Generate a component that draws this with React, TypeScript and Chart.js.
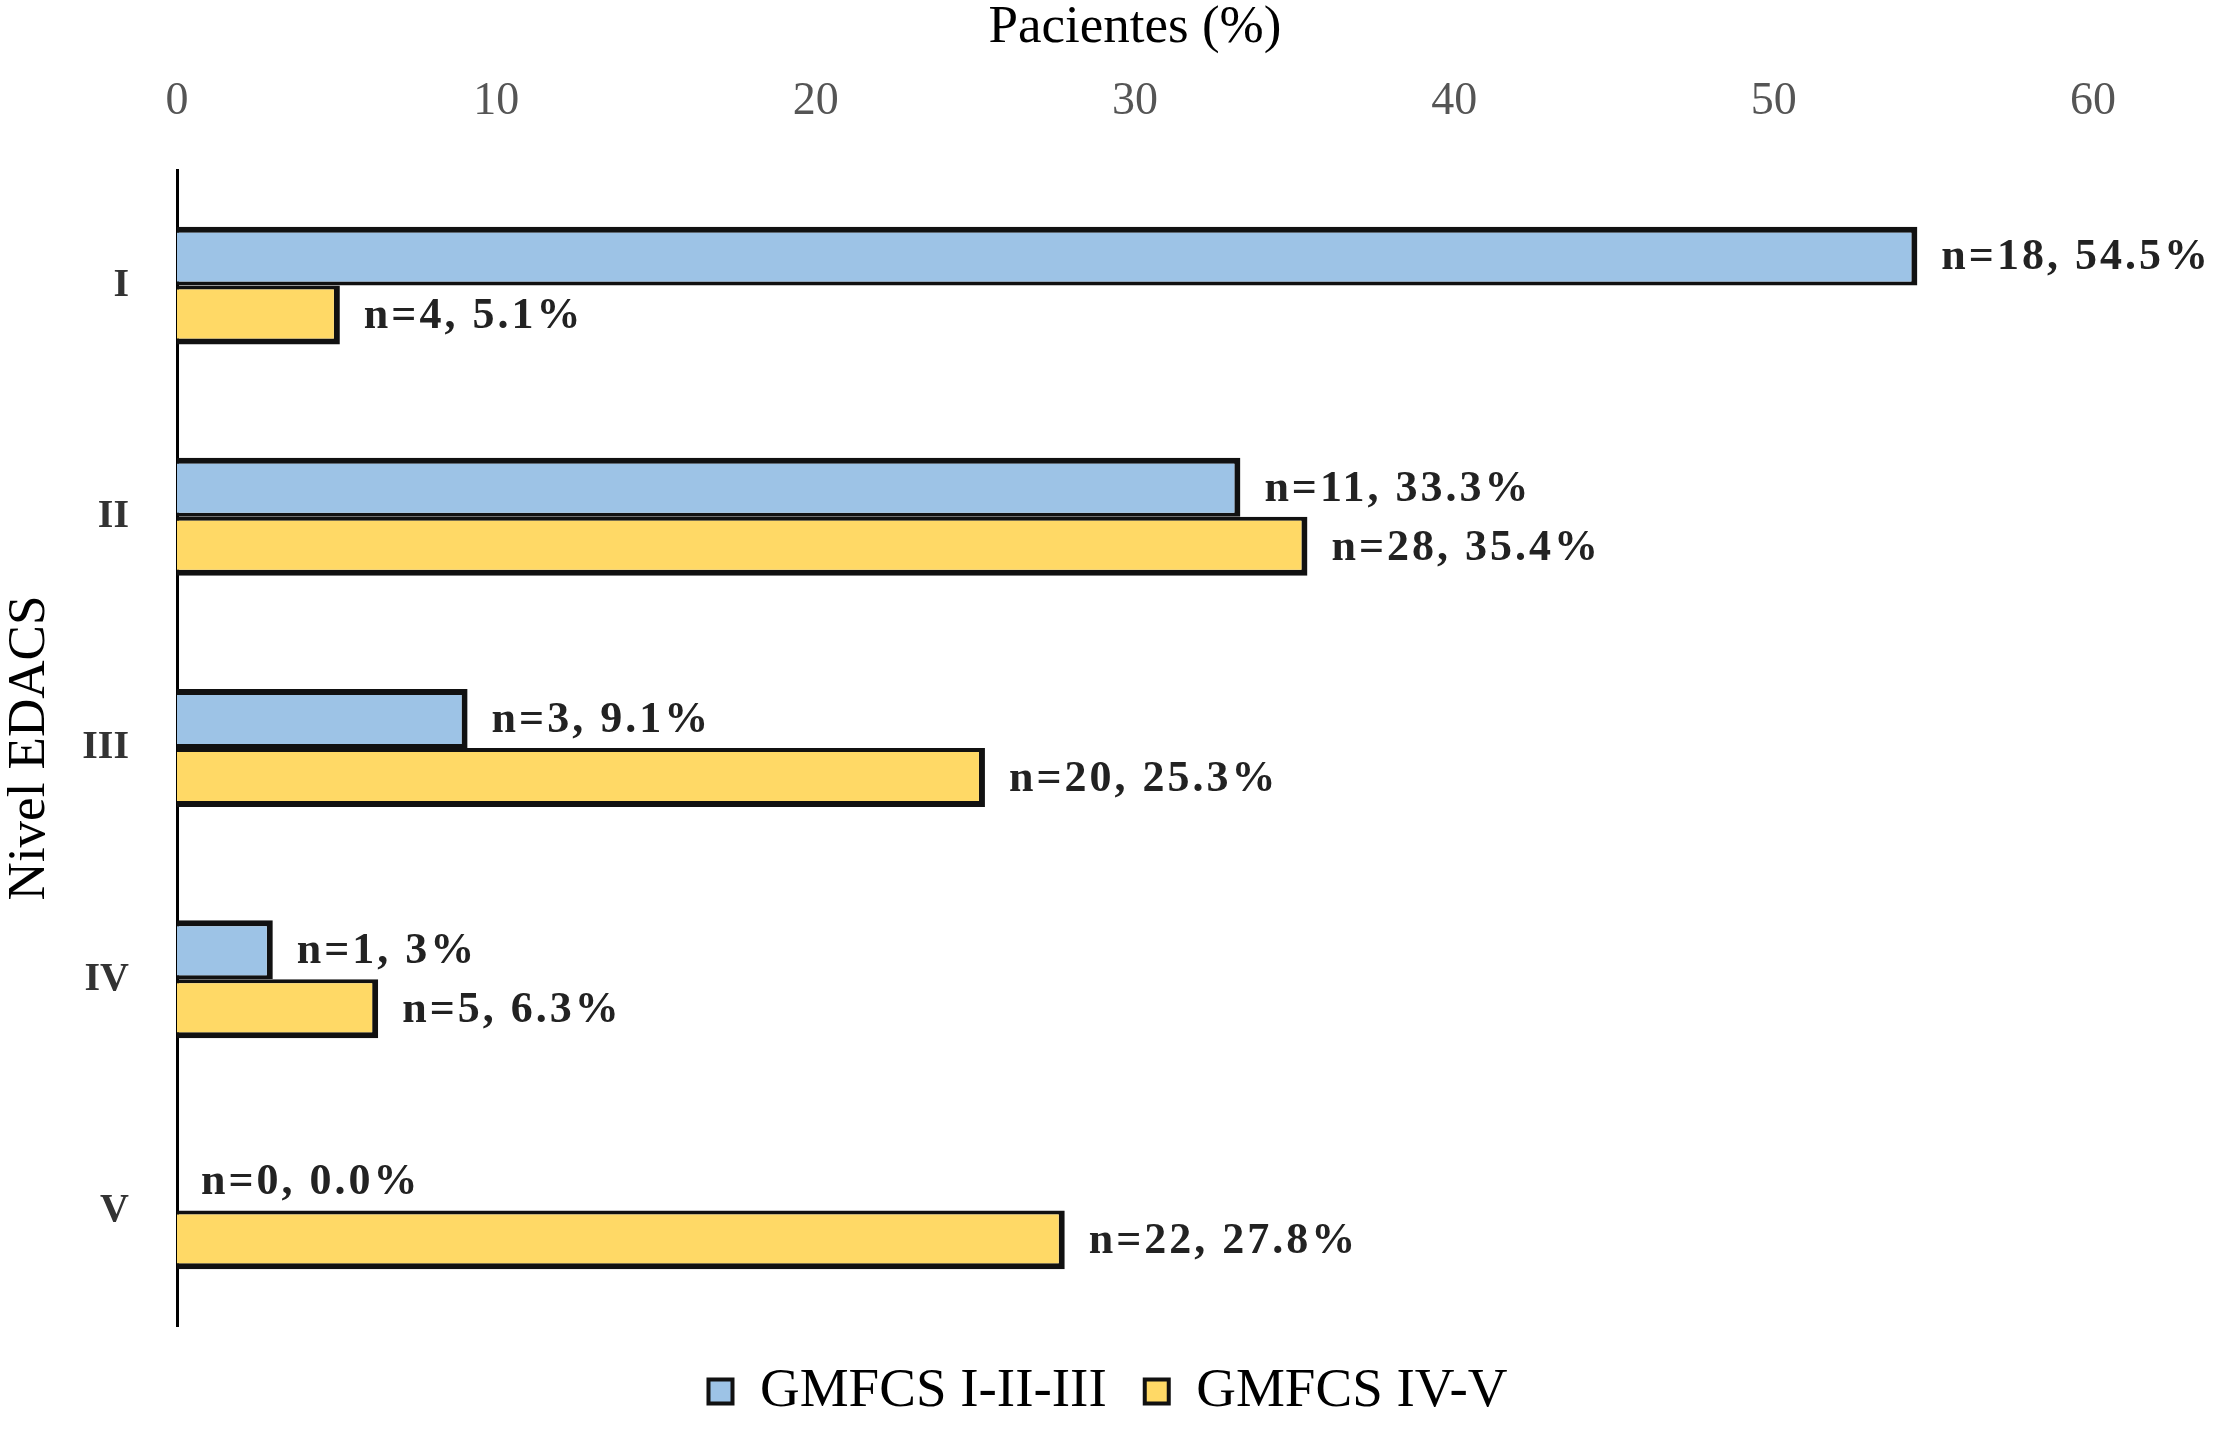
import { useEffect, useRef } from "react";
import { Chart, registerables } from "chart.js";
import type { ChartConfiguration, Plugin } from "chart.js";

Chart.register(...registerables);

// EDACS levels (y categories)
const levels = ["I", "II", "III", "IV", "V"];
const seriesNames = ["GMFCS I-II-III", "GMFCS IV-V"];

// percentages of patients per group
const pctLow = [54.5, 33.3, 9.1, 3, 0];
const pctHigh = [5.1, 35.4, 25.3, 6.3, 27.8];

// bar annotations
const labelsLow = ["n=18, 54.5%", "n=11, 33.3%", "n=3, 9.1%", "n=1, 3%", "n=0, 0.0%"];
const labelsHigh = ["n=4, 5.1%", "n=28, 35.4%", "n=20, 25.3%", "n=5, 6.3%", "n=22, 27.8%"];

const xMin = 0;
const xMax = 60;
const xStep = 10;

const SERIF = "'Liberation Serif', 'Times New Roman', serif";

const barLabels: Plugin<"bar"> = {
  id: "barLabels",
  afterDatasetsDraw(chart) {
    const ctx = chart.ctx;
    const texts = [labelsLow, labelsHigh];
    ctx.save();
    ctx.font = `bold 44px ${SERIF}`;
    (ctx as any).letterSpacing = "3px";
    ctx.fillStyle = "#222";
    ctx.textAlign = "left";
    ctx.textBaseline = "middle";
    chart.data.datasets.forEach((_, di) => {
      const meta = chart.getDatasetMeta(di);
      meta.data.forEach((bar, i) => {
        const { x, y } = bar.getProps(["x", "y"], true) as { x: number; y: number };
        ctx.fillText(texts[di][i], x + 24, y + 2);
      });
    });
    ctx.restore();
  },
};

export default function App() {
  const canvasRef = useRef<HTMLCanvasElement>(null);

  useEffect(() => {
    document.body.style.margin = "0";
    if (!canvasRef.current) return;

    const config: ChartConfiguration<"bar"> = {
      type: "bar",
      data: {
        labels: levels,
        datasets: [
          {
            label: seriesNames[0],
            data: pctLow,
            backgroundColor: "#9dc3e6",
            borderColor: "#111",
            borderWidth: { top: 6, right: 6, bottom: 4, left: 0 },
          },
          {
            label: seriesNames[1],
            data: pctHigh,
            backgroundColor: "#ffd966",
            borderColor: "#111",
            borderWidth: { top: 4, right: 6, bottom: 6, left: 0 },
          },
        ],
      },
      options: {
        indexAxis: "y",
        responsive: false,
        animation: false,
        layout: { padding: 0 },
        datasets: {
          bar: { categoryPercentage: 0.51, barPercentage: 1 },
        },
        scales: {
          x: {
            position: "top",
            min: xMin,
            max: xMax,
            ticks: {
              stepSize: xStep,
              padding: 40,
              color: "#555",
              font: { family: SERIF, size: 46 },
            },
            grid: { display: false, drawTicks: false },
            border: { display: false },
            title: {
              display: true,
              text: "Pacientes (%)",
              color: "#000",
              font: { family: SERIF, size: 53, lineHeight: 1 },
              padding: { top: 2, bottom: 0 },
            },
            afterFit(scale) {
              scale.height = 170;
            },
          },
          y: {
            ticks: {
              padding: 48,
              color: "#333",
              font: { family: SERIF, size: 40, weight: "bold" },
            },
            grid: { display: false, drawTicks: false },
            border: { display: true, color: "#000", width: 3 },
            title: {
              display: true,
              text: "Nivel EDACS",
              color: "#000",
              font: { family: SERIF, size: 53, lineHeight: 1 },
              padding: { top: 4, bottom: 0 },
            },
            afterFit(scale) {
              scale.width = 177;
            },
          },
          // empty right-hand axis that only reserves room for the value labels
          yRight: {
            type: "category",
            position: "right",
            ticks: { display: false },
            grid: { display: false, drawTicks: false },
            border: { display: false },
            afterFit(scale) {
              scale.width = 123;
            },
          },
        },
        plugins: {
          legend: {
            position: "bottom",
            labels: {
              boxWidth: 24,
              boxHeight: 24,
              padding: 38,
              color: "#000",
              font: { family: SERIF, size: 55 },
            },
          },
          tooltip: { enabled: false },
        },
      },
      plugins: [barLabels],
    };

    const chart = new Chart(canvasRef.current, config);
    return () => chart.destroy();
  }, []);

  return (
    <div style={{ width: 2216, height: 1429, background: "#fff" }}>
      <canvas ref={canvasRef} width={2216} height={1429} />
    </div>
  );
}
